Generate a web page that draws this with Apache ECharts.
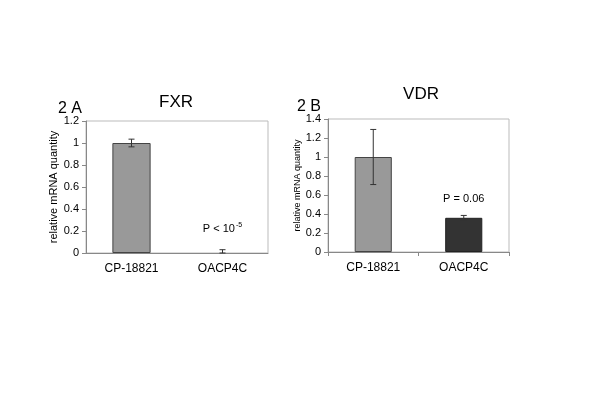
<!DOCTYPE html>
<html>
<head>
<meta charset="utf-8">
<script src="https://cdn.jsdelivr.net/npm/echarts@6/dist/echarts.min.js"></script>
<style>
  html, body { margin: 0; padding: 0; background: #fff; }
  #chart { width: 600px; height: 416px; }
</style>
</head>
<body>
<div id="chart"></div>
<script>
// categories + values
var categories = ["CP-18821", "OACP4C"];
var fxrValues = [1.0, 0];
var fxrLow = [0.965, 0];
var fxrHigh = [1.035, 0.03];
var vdrValues = [1.0, 0.36];
var vdrLow = [0.71, 0.34];
var vdrHigh = [1.29, 0.385];
var fxrTicks = [0, 1.2, 0.2];
var vdrTicks = [0, 1.4, 0.2];

var font = "Liberation Sans, Arial, sans-serif";

function errData(low, high) {
  var out = [];
  for (var i = 0; i < low.length; i++) {
    out.push([i, low[i], high[i]]);
  }
  return out;
}

// draws error bar with caps
function renderError(params, api) {
  var x = api.value(0);
  var lo = api.coord([x, api.value(1)]);
  var hi = api.coord([x, api.value(2)]);
  var w = 3;
  var st = { stroke: "#333", lineWidth: 1 };
  return {
    type: "group",
    children: [
      { type: "line", shape: { x1: hi[0], y1: hi[1], x2: lo[0], y2: lo[1] }, style: st },
      { type: "line", shape: { x1: hi[0] - w, y1: hi[1], x2: hi[0] + w, y2: hi[1] }, style: st },
      { type: "line", shape: { x1: lo[0] - w, y1: lo[1], x2: lo[0] + w, y2: lo[1] }, style: st }
    ]
  };
}

function yAxis(idx, ticks, gap, nameSize) {
  return {
    gridIndex: idx,
    type: "value",
    min: ticks[0],
    max: ticks[1],
    interval: ticks[2],
    name: "relative mRNA quantity",
    nameLocation: "middle",
    nameGap: gap,
    nameTextStyle: { fontFamily: font, fontSize: nameSize, color: "#000" },
    axisLine: { show: true, lineStyle: { color: "#888" } },
    axisTick: { show: true, length: 4, lineStyle: { color: "#888" } },
    axisLabel: { fontFamily: font, fontSize: 11, color: "#000", margin: 7 },
    splitLine: { show: false }
  };
}

function xAxis(idx, ticks) {
  return {
    gridIndex: idx,
    type: "category",
    data: categories,
    axisLine: { lineStyle: { color: "#888" } },
    axisTick: { show: ticks, length: 4, lineStyle: { color: "#888" } },
    axisLabel: { fontFamily: font, fontSize: 12, color: "#000", margin: 10 }
  };
}

var option = {
  animation: false,
  backgroundColor: "#fff",
  title: [
    { text: "FXR", left: 171, top: 89, textAlign: "center",
      textStyle: { fontFamily: font, fontSize: 17, fontWeight: "normal", color: "#000" } },
    { text: "2 A", left: 53, top: 96,
      textStyle: { fontFamily: font, fontSize: 16, fontWeight: "normal", color: "#000" } },
    { text: "VDR", left: 416, top: 81, textAlign: "center",
      textStyle: { fontFamily: font, fontSize: 17, fontWeight: "normal", color: "#000" } },
    { text: "2 B", left: 292, top: 94,
      textStyle: { fontFamily: font, fontSize: 16, fontWeight: "normal", color: "#000" } }
  ],
  grid: [
    { left: 86, right: 332, top: 121, bottom: 163, show: true, borderColor: "#bbb", borderWidth: 1 },
    { left: 328, right: 91, top: 119, bottom: 164, show: true, borderColor: "#bbb", borderWidth: 1 }
  ],
  xAxis: [xAxis(0, false), xAxis(1, true)],
  yAxis: [yAxis(0, fxrTicks, 27, 11), yAxis(1, vdrTicks, 24, 9)],
  series: [
    {
      type: "bar",
      xAxisIndex: 0, yAxisIndex: 0,
      barWidth: "42%",
      data: [
        { value: fxrValues[0], itemStyle: { color: "#999", borderColor: "#444", borderWidth: 1 } },
        { value: fxrValues[1], itemStyle: { color: "#333", borderWidth: 0 },
          label: {
            show: true, position: "top", distance: 17,
            formatter: "{a|P < 10}{b|-5}",
            rich: {
              a: { fontFamily: font, fontSize: 11, color: "#000" },
              b: { fontFamily: font, fontSize: 7, color: "#000", padding: [0, 0, 7, 1] }
            }
          } }
      ]
    },
    {
      type: "custom",
      xAxisIndex: 0, yAxisIndex: 0,
      renderItem: renderError,
      data: errData(fxrLow, fxrHigh),
      z: 5
    },
    {
      type: "bar",
      xAxisIndex: 1, yAxisIndex: 1,
      barWidth: "41%",
      data: [
        { value: vdrValues[0], itemStyle: { color: "#999", borderColor: "#444", borderWidth: 1 } },
        { value: vdrValues[1], itemStyle: { color: "#333", borderColor: "#222", borderWidth: 1 },
          label: {
            show: true, position: "top", distance: 13,
            formatter: "P = 0.06",
            fontFamily: font, fontSize: 11, color: "#000"
          } }
      ]
    },
    {
      type: "custom",
      xAxisIndex: 1, yAxisIndex: 1,
      renderItem: renderError,
      data: errData(vdrLow, vdrHigh),
      z: 5
    }
  ]
};

var myChart = echarts.init(document.getElementById("chart"));
myChart.setOption(option);
</script>
</body>
</html>
